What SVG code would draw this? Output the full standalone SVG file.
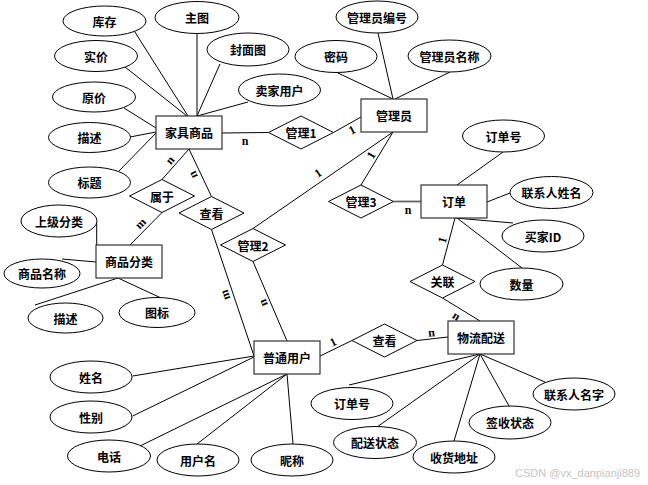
<svg xmlns="http://www.w3.org/2000/svg" width="648" height="485" viewBox="0 0 648 485">
<style>
.s{fill:#fff;stroke:#000;stroke-width:1}
.r{fill:#fff;stroke:#333;stroke-width:1.2}
.t{font-family:"Noto Sans CJK SC","Liberation Serif",serif;font-size:12px;font-weight:bold;text-anchor:middle;dominant-baseline:central;fill:#000}
.l{font-family:"Liberation Serif","Noto Sans CJK SC",serif;font-size:12px;font-weight:bold;text-anchor:middle;dominant-baseline:central;fill:#000}
#connectors line{stroke:#000;stroke-width:1}
</style>
<rect width="648" height="485" fill="#fff"/>
<g id="connectors">
<line x1="133" y1="29" x2="188" y2="116"/>
<line x1="197" y1="33.5" x2="197" y2="116"/>
<line x1="220" y1="64" x2="197" y2="116"/>
<line x1="125" y1="67" x2="187" y2="116"/>
<line x1="248" y1="102" x2="197" y2="116"/>
<line x1="124" y1="108" x2="156" y2="128"/>
<line x1="130" y1="137" x2="156" y2="132"/>
<line x1="118" y1="172" x2="156" y2="133"/>
<line x1="222" y1="133" x2="268.5" y2="132.5"/>
<line x1="333.5" y1="132.5" x2="361" y2="117"/>
<line x1="393" y1="132" x2="253" y2="228.5"/>
<line x1="393" y1="132" x2="361" y2="185"/>
<line x1="393.5" y1="201.5" x2="421" y2="201.5" style="stroke:#666;stroke-width:1.8"/>
<line x1="378" y1="33" x2="393" y2="99"/>
<line x1="338" y1="73" x2="393" y2="99"/>
<line x1="450" y1="72" x2="395" y2="99"/>
<line x1="457" y1="185" x2="503" y2="152"/>
<line x1="487" y1="202" x2="510" y2="193"/>
<line x1="455" y1="218" x2="513" y2="223"/>
<line x1="457" y1="218" x2="522" y2="268"/>
<line x1="455" y1="218" x2="442.5" y2="265"/>
<line x1="442.5" y1="298" x2="480" y2="321"/>
<line x1="448" y1="337" x2="417" y2="340.5"/>
<line x1="352" y1="340.5" x2="320" y2="356"/>
<line x1="480" y1="354" x2="349" y2="385"/>
<line x1="480" y1="354" x2="377" y2="427"/>
<line x1="480" y1="354" x2="454" y2="441"/>
<line x1="480" y1="354" x2="509" y2="406"/>
<line x1="480" y1="354" x2="545" y2="382"/>
<line x1="96.7" y1="223" x2="96.7" y2="245"/>
<line x1="62" y1="259" x2="96" y2="262"/>
<line x1="35" y1="305" x2="118" y2="278"/>
<line x1="160" y1="297.5" x2="118" y2="278"/>
<line x1="130" y1="245" x2="162" y2="212.5"/>
<line x1="162" y1="179.5" x2="189" y2="149"/>
<line x1="189" y1="149" x2="211.5" y2="196.5"/>
<line x1="211.5" y1="229.5" x2="254" y2="356"/>
<line x1="253" y1="261.5" x2="287" y2="341"/>
<line x1="132.7" y1="376" x2="254" y2="356"/>
<line x1="132.7" y1="416" x2="254" y2="357"/>
<line x1="140" y1="446" x2="287" y2="374"/>
<line x1="197" y1="444" x2="287" y2="374"/>
<line x1="293" y1="444" x2="287" y2="374"/>
</g>
<g id="labels">
<text class="l" x="245" y="141">n</text>
<text class="l" transform="translate(352,130) rotate(-28)">1</text>
<text class="l" transform="translate(318,173) rotate(-34)">1</text>
<text class="l" transform="translate(371,155) rotate(-59)">1</text>
<text class="l" x="408" y="210">n</text>
<text class="l" transform="translate(442.5,240) rotate(-75)">1</text>
<text class="l" transform="translate(456.5,316) rotate(32)">n</text>
<text class="l" transform="translate(431.5,332.5) rotate(-5)">n</text>
<text class="l" transform="translate(333,342) rotate(-27)">1</text>
<text class="l" transform="translate(140.5,223.5) rotate(-45)">m</text>
<text class="l" transform="translate(170,160) rotate(-49)">n</text>
<text class="l" transform="translate(193,175) rotate(-115)">n</text>
<text class="l" transform="translate(225,295) rotate(-109)">m</text>
<text class="l" transform="translate(263,303) rotate(-113)">n</text>
</g>
<g id="n-jiaju"><rect class="r" x="156" y="116" width="66" height="33"/><text class="t" x="189" y="132.5">家具商品</text></g>
<g id="n-admin"><rect class="r" x="361" y="99" width="66" height="33"/><text class="t" x="394" y="115.5">管理员</text></g>
<g id="n-order"><rect class="r" x="421" y="185" width="66" height="33"/><text class="t" x="454" y="201.5">订单</text></g>
<g id="n-wuliu"><rect class="r" x="448" y="321" width="66" height="33"/><text class="t" x="481" y="337.5">物流配送</text></g>
<g id="n-fenlei"><rect class="r" x="96" y="245" width="66" height="33"/><text class="t" x="129" y="261.5">商品分类</text></g>
<g id="n-user"><rect class="r" x="254" y="341" width="66" height="33"/><text class="t" x="287" y="357.5">普通用户</text></g>
<g id="r-guanli1"><polygon class="s" points="268.5,132.5 301,116 333.5,132.5 301,149"/><text class="t" x="301" y="132.5">管理1</text></g>
<g id="r-guanli3"><polygon class="s" points="328.5,201.5 361,185 393.5,201.5 361,218"/><text class="t" x="361" y="201.5">管理3</text></g>
<g id="r-guanlian"><polygon class="s" points="410,281.5 442.5,265 475,281.5 442.5,298"/><text class="t" x="442.5" y="281.5">关联</text></g>
<g id="r-chakan2"><polygon class="s" points="352,340.5 384.5,324 417,340.5 384.5,357"/><text class="t" x="384.5" y="340.5">查看</text></g>
<g id="r-chakan1"><polygon class="s" points="179,213 211.5,196.5 244,213 211.5,229.5"/><text class="t" x="211.5" y="213">查看</text></g>
<g id="r-shuyu"><polygon class="s" points="129.5,196 162,179.5 194.5,196 162,212.5"/><text class="t" x="162" y="196">属于</text></g>
<g id="r-guanli2"><polygon class="s" points="220.5,245 253,228.5 285.5,245 253,261.5"/><text class="t" x="253" y="245">管理2</text></g>
<g id="a-kucun"><ellipse class="s" cx="104.5" cy="21" rx="41.5" ry="15"/><text class="t" x="104.5" y="21">库存</text></g>
<g id="a-zhutu"><ellipse class="s" cx="197" cy="17.5" rx="42" ry="16"/><text class="t" x="197" y="17.5">主图</text></g>
<g id="a-fengmian"><ellipse class="s" cx="248" cy="49.5" rx="41" ry="16.5"/><text class="t" x="248" y="49.5">封面图</text></g>
<g id="a-shijia"><ellipse class="s" cx="96" cy="56" rx="41.5" ry="15.5"/><text class="t" x="96" y="56">实价</text></g>
<g id="a-maijia"><ellipse class="s" cx="279.5" cy="90" rx="41" ry="16"/><text class="t" x="279.5" y="90">卖家用户</text></g>
<g id="a-yuanjia"><ellipse class="s" cx="94" cy="97" rx="41.5" ry="15"/><text class="t" x="94" y="97">原价</text></g>
<g id="a-miaoshu"><ellipse class="s" cx="89.5" cy="137.5" rx="41" ry="15"/><text class="t" x="89.5" y="137.5">描述</text></g>
<g id="a-biaoti"><ellipse class="s" cx="89.5" cy="182.5" rx="41" ry="15.5"/><text class="t" x="89.5" y="182.5">标题</text></g>
<g id="a-adminno"><ellipse class="s" cx="377" cy="17" rx="41" ry="16"/><text class="t" x="377" y="17">管理员编号</text></g>
<g id="a-mima"><ellipse class="s" cx="336" cy="56.5" rx="41" ry="16"/><text class="t" x="336" y="56.5">密码</text></g>
<g id="a-adminname"><ellipse class="s" cx="449.5" cy="56" rx="41.5" ry="16"/><text class="t" x="449.5" y="56">管理员名称</text></g>
<g id="a-orderno"><ellipse class="s" cx="503.5" cy="136" rx="41" ry="16"/><text class="t" x="503.5" y="136">订单号</text></g>
<g id="a-lianxiren"><ellipse class="s" cx="551.5" cy="192.5" rx="41.5" ry="16"/><text class="t" x="551.5" y="192.5">联系人姓名</text></g>
<g id="a-buyer"><ellipse class="s" cx="543" cy="236" rx="41" ry="16"/><text class="t" x="543" y="236">买家ID</text></g>
<g id="a-shuliang"><ellipse class="s" cx="521.5" cy="284" rx="41.5" ry="16"/><text class="t" x="521.5" y="284">数量</text></g>
<g id="a-orderno2"><ellipse class="s" cx="352" cy="403.5" rx="41" ry="16"/><text class="t" x="352" y="403.5">订单号</text></g>
<g id="a-lianxiren2"><ellipse class="s" cx="574" cy="394" rx="41" ry="16"/><text class="t" x="574" y="394">联系人名字</text></g>
<g id="a-qianshou"><ellipse class="s" cx="510" cy="422.5" rx="41" ry="16.5"/><text class="t" x="510" y="422.5">签收状态</text></g>
<g id="a-peisong"><ellipse class="s" cx="375" cy="442.5" rx="41.5" ry="16"/><text class="t" x="375" y="442.5">配送状态</text></g>
<g id="a-shouhuo"><ellipse class="s" cx="454" cy="457" rx="41" ry="16"/><text class="t" x="454" y="457">收货地址</text></g>
<g id="a-shangji"><ellipse class="s" cx="59" cy="221" rx="38" ry="16"/><text class="t" x="59" y="221">上级分类</text></g>
<g id="a-spname"><ellipse class="s" cx="42" cy="273.5" rx="38" ry="14.5"/><text class="t" x="42" y="273.5">商品名称</text></g>
<g id="a-miaoshu2"><ellipse class="s" cx="65.5" cy="318" rx="37.5" ry="15"/><text class="t" x="65.5" y="318">描述</text></g>
<g id="a-tubiao"><ellipse class="s" cx="157" cy="312.5" rx="38" ry="15"/><text class="t" x="157" y="312.5">图标</text></g>
<g id="a-xingming"><ellipse class="s" cx="91" cy="377" rx="41" ry="16"/><text class="t" x="91" y="377">姓名</text></g>
<g id="a-xingbie"><ellipse class="s" cx="91" cy="417" rx="41" ry="16"/><text class="t" x="91" y="417">性别</text></g>
<g id="a-dianhua"><ellipse class="s" cx="109" cy="456" rx="41.5" ry="16"/><text class="t" x="109" y="456">电话</text></g>
<g id="a-yonghuming"><ellipse class="s" cx="198" cy="460" rx="41" ry="16"/><text class="t" x="198" y="460">用户名</text></g>
<g id="a-nicheng"><ellipse class="s" cx="292" cy="460" rx="41" ry="16"/><text class="t" x="292" y="460">昵称</text></g>
<text x="640" y="477" style="font-family:'Liberation Sans',sans-serif;font-size:11px;fill:#c4c4c4;text-anchor:end">CSDN @vx_danpianji889</text>
</svg>
